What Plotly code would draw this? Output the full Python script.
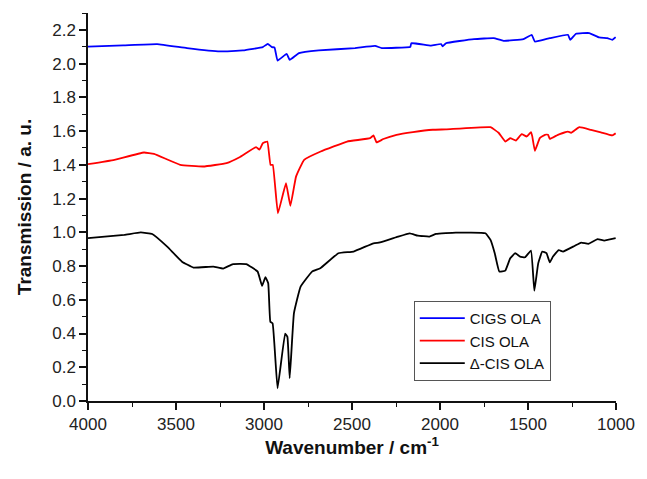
import plotly.graph_objects as go

# FTIR spectra of the oleylamine-capped nanocrystals (wavenumber in cm^-1, transmission offset)
cigs_wn = [4000, 3800, 3607, 3438, 3251, 3120, 3007, 2979, 2955, 2940, 2923, 2871, 2854, 2801,
           2689, 2483, 2369, 2331, 2172, 2168, 2163, 2051, 1994, 1985, 1966, 1807, 1695, 1639,
           1526, 1479, 1461, 1376, 1273, 1260, 1227, 1152, 1095, 1049, 1021, 1002]
cigs_t = [2.101, 2.108, 2.116, 2.092, 2.072, 2.078, 2.098, 2.117, 2.098, 2.095, 2.018, 2.058,
          2.022, 2.062, 2.078, 2.092, 2.105, 2.092, 2.098, 2.100, 2.121, 2.107, 2.116, 2.102,
          2.121, 2.145, 2.151, 2.135, 2.145, 2.171, 2.131, 2.151, 2.171, 2.141, 2.177, 2.181,
          2.155, 2.151, 2.141, 2.157]

cis_wn = [4000, 3850, 3682, 3625, 3476, 3345, 3213, 3139, 3045, 3026, 3007, 2981, 2963, 2950,
          2921, 2875, 2850, 2818, 2772, 2678, 2528, 2397, 2378, 2360, 2322, 2247, 2154, 2041,
          1966, 1713, 1667, 1629, 1601, 1569, 1536, 1507, 1483, 1476, 1461, 1433, 1404, 1386,
          1376, 1330, 1273, 1255, 1208, 1142, 1086, 1021, 1002]
cis_t = [1.404, 1.430, 1.473, 1.465, 1.400, 1.390, 1.410, 1.445, 1.505, 1.490, 1.528, 1.538,
         1.400, 1.400, 1.113, 1.291, 1.157, 1.330, 1.430, 1.479, 1.538, 1.558, 1.575, 1.533,
         1.553, 1.578, 1.594, 1.608, 1.610, 1.623, 1.590, 1.538, 1.558, 1.544, 1.582, 1.568,
         1.594, 1.570, 1.483, 1.558, 1.578, 1.578, 1.554, 1.578, 1.597, 1.590, 1.623, 1.607,
         1.592, 1.574, 1.587]

dcis_wn = [4000, 3794, 3700, 3635, 3550, 3466, 3401, 3288, 3232, 3176, 3101, 3036, 3011, 2992,
           2976, 2964, 2951, 2923, 2880, 2867, 2854, 2830, 2792, 2727, 2680, 2577, 2491, 2378,
           2341, 2247, 2172, 2126, 2060, 2022, 1910, 1742, 1713, 1689, 1663, 1629, 1601, 1573,
           1545, 1517, 1483, 1464, 1442, 1419, 1395, 1376, 1358, 1326, 1301, 1236, 1198, 1157,
           1105, 1067, 1002]
dcis_t = [0.965, 0.985, 0.999, 0.990, 0.915, 0.826, 0.791, 0.797, 0.785, 0.812, 0.812, 0.767,
          0.682, 0.734, 0.698, 0.470, 0.460, 0.075, 0.400, 0.380, 0.136, 0.520, 0.678, 0.767,
          0.787, 0.876, 0.886, 0.935, 0.940, 0.971, 0.994, 0.980, 0.975, 0.990, 0.998, 0.994,
          0.955, 0.876, 0.767, 0.773, 0.846, 0.876, 0.856, 0.852, 0.892, 0.654, 0.816, 0.886,
          0.876, 0.822, 0.856, 0.895, 0.886, 0.919, 0.939, 0.931, 0.959, 0.951, 0.965]

series = [
    ("CIGS OLA", cigs_wn, cigs_t, "#0000ff"),
    ("CIS OLA", cis_wn, cis_t, "#ff0000"),
    ("\u0394-CIS OLA", dcis_wn, dcis_t, "#000000"),
]

fig = go.Figure()
for name, wn, t, color in series:
    fig.add_trace(go.Scatter(x=wn, y=t, mode="lines", name=name,
                             line=dict(color=color, width=1.8, shape="spline", smoothing=0.3)))

family = "Arial, Liberation Sans, sans-serif"
axis_font = dict(family=family, size=17, color="#222222")
title_font = dict(family=family, size=19, color="#111111")

fig.update_layout(
    width=647, height=479,
    margin=dict(l=88, r=25, t=13, b=78),
    paper_bgcolor="white", plot_bgcolor="white",
    font=axis_font,
    showlegend=True,
    legend=dict(x=0.617, y=0.258, xanchor="left", yanchor="top",
                bordercolor="#555555", borderwidth=1, bgcolor="white",
                font=dict(family=family, size=15, color="#111111"),
                tracegroupgap=0, itemwidth=45),
    xaxis=dict(
        range=[4000, 1000], dtick=500, tick0=1000,
        showgrid=False, zeroline=False,
        showline=True, linecolor="#111111", linewidth=1.5,
        ticks="outside", ticklen=7, tickwidth=1.5, tickcolor="#111111",
        minor=dict(ticks="outside", ticklen=4, tickwidth=1.2, tickcolor="#111111", dtick=250),
        tickfont=axis_font,
        title=dict(text="<b>Wavenumber / cm<sup>-1</sup></b>", font=title_font, standoff=2),
    ),
    yaxis=dict(
        range=[0, 2.3], dtick=0.2, tick0=0, tickformat=".1f",
        showgrid=False, zeroline=False,
        showline=True, linecolor="#111111", linewidth=1.5,
        ticks="outside", ticklen=7, tickwidth=1.5, tickcolor="#111111",
        minor=dict(ticks="outside", ticklen=4, tickwidth=1.2, tickcolor="#111111", dtick=0.1),
        tickfont=axis_font,
        title=dict(text="<b>Transmission / a. u.</b>", font=title_font, standoff=16),
    ),
)

fig.write_html("out.html")
